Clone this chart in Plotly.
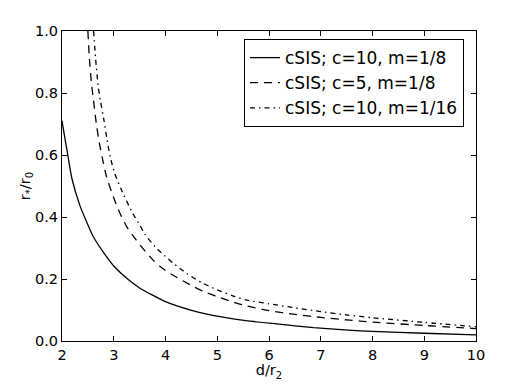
import plotly.graph_objects as go

# --- data ---
x_c10_m8 = [2.0, 2.05, 2.1, 2.19, 2.35, 2.5, 2.6, 2.86, 3.0, 3.28, 3.5, 4.0, 4.5, 4.8, 5.0, 5.44, 6.15, 6.86, 7.53, 8.0, 9.0, 10.0]
y_c10_m8 = [0.71, 0.66, 0.612, 0.525, 0.435, 0.375, 0.338, 0.272, 0.242, 0.198, 0.171, 0.127, 0.099, 0.087, 0.08, 0.068, 0.055, 0.043, 0.035, 0.031, 0.025, 0.02]

x_c5_m8 = [2.50, 2.53, 2.57, 2.61, 2.66, 2.72, 2.78, 2.86, 2.99, 3.12, 3.25, 3.41, 3.57, 3.76, 3.96, 4.22, 4.47, 4.73, 5.0, 5.25, 5.5, 6.0, 6.5, 7.0, 7.5, 8.0, 9.0, 10.0]
y_c5_m8 = [1.0, 0.91, 0.83, 0.775, 0.705, 0.64, 0.59, 0.53, 0.466, 0.412, 0.369, 0.331, 0.297, 0.261, 0.232, 0.205, 0.182, 0.16, 0.143, 0.129, 0.116, 0.098, 0.086, 0.076, 0.068, 0.061, 0.05, 0.04]

x_c10_m16 = [2.61, 2.65, 2.70, 2.74, 2.81, 2.87, 2.93, 3.02, 3.15, 3.35, 3.51, 3.60, 3.80, 3.93, 4.15, 4.41, 4.70, 5.0, 5.31, 5.57, 6.0, 6.5, 7.0, 7.5, 8.0, 9.0, 10.0]
y_c10_m16 = [1.0, 0.91, 0.82, 0.777, 0.713, 0.65, 0.595, 0.54, 0.487, 0.417, 0.372, 0.345, 0.304, 0.283, 0.251, 0.218, 0.188, 0.165, 0.145, 0.132, 0.12, 0.107, 0.095, 0.084, 0.075, 0.06, 0.046]

names = ["cSIS; c=10, m=1/8", "cSIS; c=5, m=1/8", "cSIS; c=10, m=1/16"]
x_ticks = [2, 3, 4, 5, 6, 7, 8, 9, 10]
y_ticks = [0.0, 0.2, 0.4, 0.6, 0.8, 1.0]
y_tick_text = ["0.0", "0.2", "0.4", "0.6", "0.8", "1.0"]

FONT = "DejaVu Sans"

fig = go.Figure()
series = [
    (x_c10_m8, y_c10_m8, names[0], "solid"),
    (x_c5_m8, y_c5_m8, names[1], "8px,6px"),
    (x_c10_m16, y_c10_m16, names[2], "5px,4px,1.5px,4px"),
]
for xs, ys, nm, dash in series:
    fig.add_trace(go.Scatter(
        x=xs, y=ys, mode="lines", name=nm,
        line=dict(color="black", width=1.3, dash=dash, shape="spline", smoothing=0.6),
    ))

axis_common = dict(
    showline=True, linecolor="black", linewidth=1.2, mirror="allticks",
    ticks="inside", ticklen=5, tickwidth=1, tickcolor="black",
    showgrid=False, zeroline=False, automargin=False,
    tickfont=dict(family=FONT, size=14.5, color="black"),
)

fig.update_layout(
    width=518, height=388,
    margin=dict(l=62, r=42, t=31, b=47),
    paper_bgcolor="white", plot_bgcolor="white",
    font=dict(family=FONT, size=14.5, color="black"),
    xaxis=dict(range=[2, 10], tickvals=x_ticks,
               title=dict(text="d/r<sub>2</sub>", standoff=1,
                          font=dict(family=FONT, size=14.5)),
               **axis_common),
    yaxis=dict(range=[0, 1], tickvals=y_ticks, ticktext=y_tick_text,
               title=dict(text="r<sub>*</sub>/r<sub>0</sub>", standoff=0,
                          font=dict(family=FONT, size=14.5)),
               **axis_common),
    legend=dict(
        x=0.971, y=0.974, xanchor="right", yanchor="top",
        bordercolor="black", borderwidth=1, bgcolor="white",
        font=dict(family=FONT, size=17, color="black"),
        tracegroupgap=0, itemwidth=30,
    ),
    showlegend=True,
)

fig.write_html("out.html", config={"displayModeBar": False},
               post_script="document.body.style.margin='0';document.body.style.overflow='hidden';")
